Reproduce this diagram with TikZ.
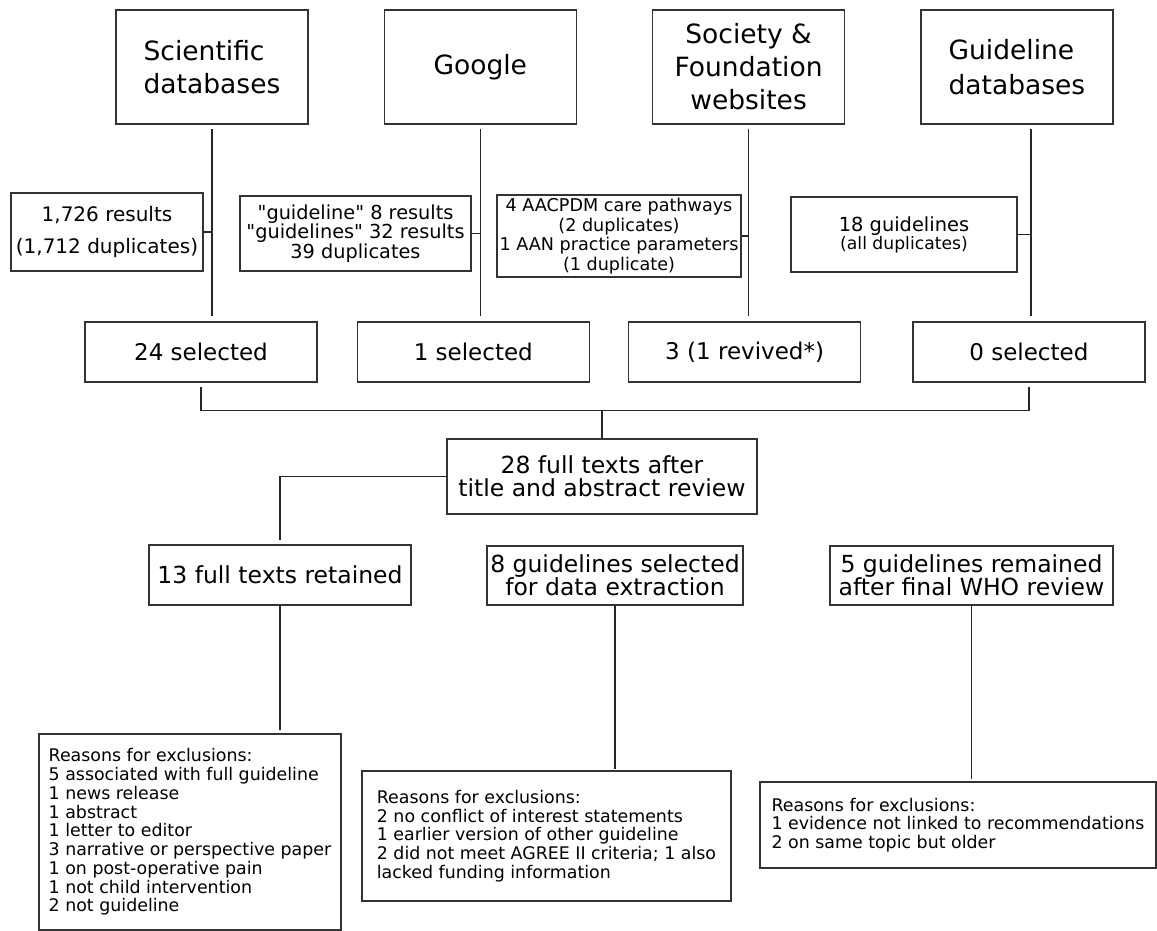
\documentclass[tikz,border=0pt]{standalone}
\usepackage{fontspec}
\setmainfont[Ligatures=TeXOff]{DejaVu Sans}
\usepackage{tikz}
\usetikzlibrary{positioning,calc}
\tikzset{
  blk/.style={draw=black!80, line width=1.3pt, fill=white, align=center, inner sep=2pt},
  src/.style={blk, minimum width=192pt, minimum height=114pt, font=\fontsize{26.5}{33}\selectfont},
  sel/.style={blk, minimum width=232pt, minimum height=60pt, font=\fontsize{23}{24}\selectfont},
  mid/.style={blk, minimum height=60pt, font=\fontsize{23.5}{23}\selectfont},
  excl/.style={blk, align=left, font=\fontsize{17.4}{18.75}\selectfont},
  conn/.style={line width=1.3pt, draw=black!85},
}

\begin{document}
\begin{tikzpicture}[x=1pt, y=-1pt]
  \fill[white] (0,0) rectangle (1157,931);
  \useasboundingbox (0,0) rectangle (1157,931);

  % sources
  \node[src, align=left] (sci) at (212,67) {Scientific\\databases};
  \node[src, right=75pt of sci] (ggl) {Google};
  \node[src, right=75pt of ggl] (soc) {Society \&\\Foundation\\websites};
  \node[src, align=left, right=75pt of soc, font=\fontsize{26.5}{35}\selectfont] (gdb) {Guideline\\databases};
  \coordinate (gdbx) at ([xshift=14pt]gdb.south);

  % search results
  \node[blk, minimum width=192pt, minimum height=78pt, font=\fontsize{20}{32}\selectfont] (res1) at (107,232) {1,726 results\\(1,712 duplicates)};
  \node[blk, minimum width=231pt, minimum height=75pt, font=\fontsize{19.3}{19.5}\selectfont] (res2) at (355.5,233.5) {"guideline" 8 results\\"guidelines" 32 results\\39 duplicates};
  \node[blk, minimum width=244pt, minimum height=82pt, font=\fontsize{17.6}{19.5}\selectfont] (res3) at (619,236) {4 AACPDM care pathways\\(2 duplicates)\\1 AAN practice parameters\\(1 duplicate)};
  \node[blk, minimum width=226pt, minimum height=75pt, font=\fontsize{19.4}{18}\selectfont] (res4) at (904,234.5) {18 guidelines\\\fontsize{17.2}{18}\selectfont(all duplicates)};

  % selected
  \node[sel] (sel1) at (201,352) {24 selected};
  \node[sel, right=39pt of sel1] (sel2) {1 selected};
  \node[sel, right=38pt of sel2] (sel3) {3 (1 revived*)};
  \node[sel, right=51pt of sel3] (sel4) {0 selected};

  % screening
  \node[mid, minimum width=310pt, minimum height=75pt] (full) at (602,476.5) {28 full texts after\\title and abstract review};
  \coordinate (join) at ([yshift=28pt]full.north);
  \node[mid, minimum width=262pt] (ret) at (280,575) {13 full texts retained};
  \node[mid, minimum width=256pt, minimum height=59pt] (ext) at (615,575.5) {8 guidelines selected\\for data extraction};
  \node[mid, minimum width=283pt, minimum height=59pt] (who) at (971.5,575.5) {5 guidelines remained\\after final WHO review};

  % exclusions
  \node[excl, minimum width=302pt, minimum height=196pt] (ex1) at (190,832) {Reasons for exclusions:\\5 associated with full guideline\\1 news release\\1 abstract\\1 letter to editor\\3 narrative or perspective paper\\1 on post-operative pain\\1 not child intervention\\2 not guideline};
  \node[excl, minimum width=369pt, minimum height=130pt] (ex2) at (546.5,836) {Reasons for exclusions:\\2 no conflict of interest statements\\1 earlier version of other guideline\\2 did not meet AGREE II criteria; 1 also\\lacked funding information};
  \node[excl, minimum width=396pt, minimum height=86pt] (ex3) at (958,825) {Reasons for exclusions:\\1 evidence not linked to recommendations\\2 on same topic but older};

  % connectors
  \draw[conn, shorten <=4pt, shorten >=5pt] (sci.south) -- (sci.south |- sel1.north);
  \draw[conn, shorten <=4pt, shorten >=5pt] (ggl.south) -- (ggl.south |- sel2.north);
  \draw[conn, shorten <=4pt, shorten >=5pt] (soc.south) -- (soc.south |- sel3.north);
  \draw[conn, shorten <=4pt, shorten >=5pt] (gdbx) -- (gdbx |- sel4.north);
  \draw[conn] (res1.east) -- (res1.east -| sci.south);
  \draw[conn] (res2.east) -- (res2.east -| ggl.south);
  \draw[conn] (res3.east) -- (res3.east -| soc.south);
  \draw[conn] (res4.east) -- (res4.east -| gdbx);
  \draw[conn] ([yshift=-4pt]sel1.south) |- (join) -| ([yshift=-4pt]sel4.south);
  \draw[conn] (join) -- (full.north);
  \draw[conn] (full.west) -| ([yshift=4pt]ret.north);
  \draw[conn, shorten >=3pt] (ret.south) -- (ret.south |- ex1.north);
  \draw[conn, shorten >=1pt] (ext.south) -- (ext.south |- ex2.north);
  \draw[conn, shorten >=2pt] (who.south) -- (who.south |- ex3.north);
\end{tikzpicture}
\end{document}
